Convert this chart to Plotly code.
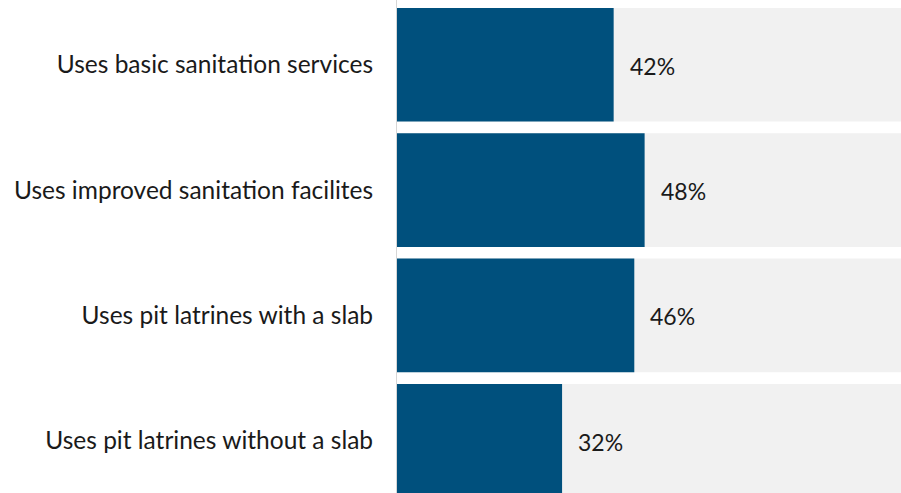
import plotly.graph_objects as go

# Share of households by sanitation indicator (%)
categories = [
    "Uses basic sanitation services",
    "Uses improved sanitation facilites",
    "Uses pit latrines with a slab",
    "Uses pit latrines without a slab",
]
values = [42, 48, 46, 32]
full_scale = [100, 100, 100, 100]

BLUE = "#00507D"
TRACK = "#F1F1F1"
TEXT = "#1A1A1A"
FONT = "Lato, 'Open Sans', sans-serif"

fig = go.Figure()

# Light background track spanning the full 100%
fig.add_trace(go.Bar(
    y=categories, x=full_scale, orientation="h",
    marker=dict(color=TRACK, line=dict(width=0)),
    hoverinfo="skip", showlegend=False,
))

# Value bars
fig.add_trace(go.Bar(
    y=categories, x=values, orientation="h",
    marker=dict(color=BLUE, line=dict(width=0)),
    showlegend=False,
))

# Value labels just past the end of each bar
for cat, v in zip(categories, values):
    fig.add_annotation(
        x=v, y=cat, text=f"{v}%", showarrow=False,
        xanchor="left", yanchor="middle", xshift=14, yshift=-1,
        font=dict(family=FONT, size=23, color=TEXT),
    )

fig.update_layout(
    width=901, height=493,
    margin=dict(l=397, r=0, t=0, b=0),
    barmode="overlay",
    bargap=0.093,
    plot_bgcolor="white",
    paper_bgcolor="white",
    font=dict(family=FONT, size=24.5, color=TEXT),
    xaxis=dict(
        range=[0, 97.7], visible=False, fixedrange=True,
    ),
    yaxis=dict(
        type="category",
        categoryorder="array", categoryarray=categories,
        range=[3.417, -0.517],
        showline=True, linecolor="#D6D6D6", linewidth=1,
        showgrid=False, zeroline=False,
        ticks="", ticklabelstandoff=18,
        tickfont=dict(family=FONT, size=24.5, color=TEXT),
        fixedrange=True,
    ),
)

fig.write_html("out.html")
